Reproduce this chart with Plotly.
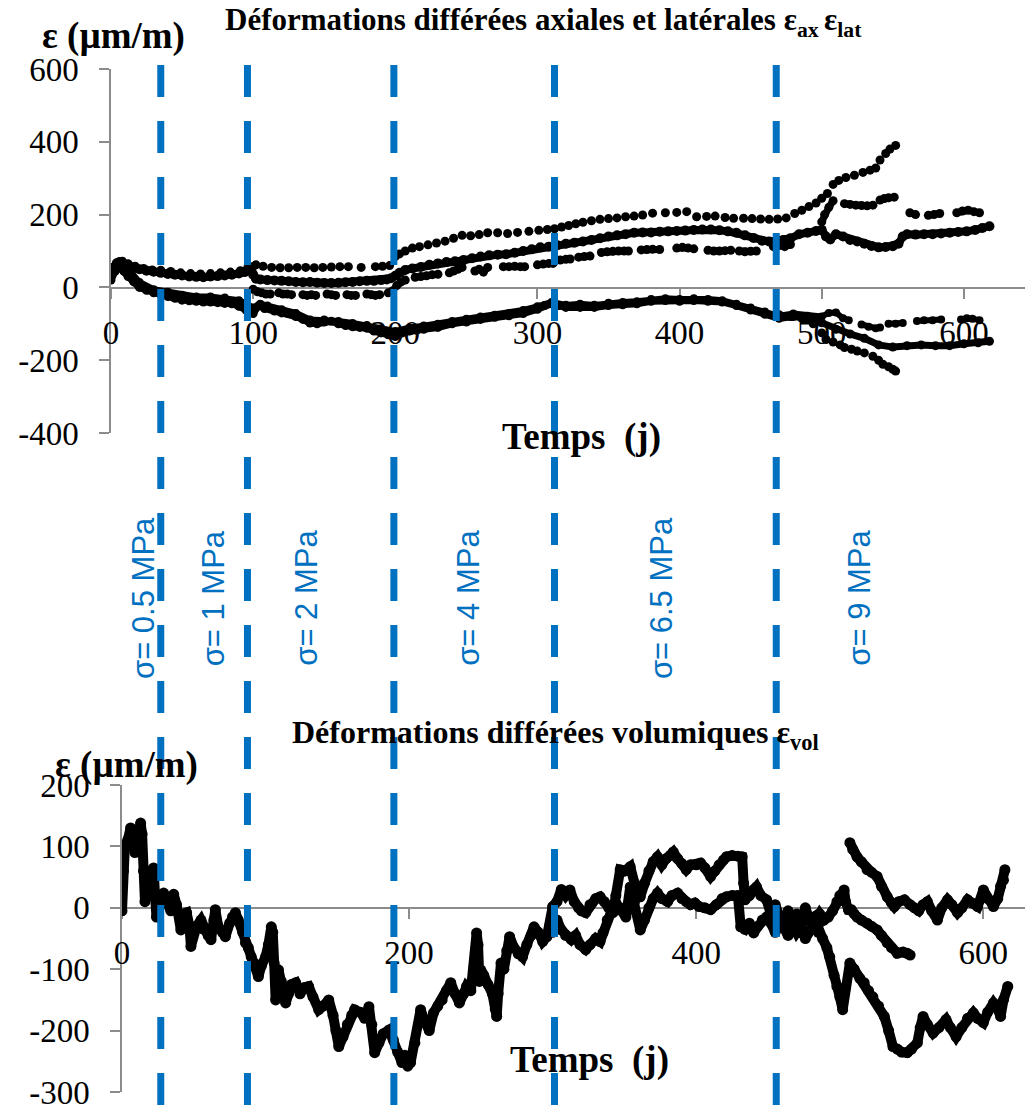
import plotly.graph_objects as go

# ---------------------------------------------------------------------------
# Déformations différées (µm/m) en fonction du temps (jours)
# Each series is a list of (jour, déformation) pairs; None marks a gap in logging.
# ---------------------------------------------------------------------------

# Axial strains (top panel)
ax_pointille = [(0,55),(4,68),(8,72),(12,65),(17,58),(23,52),(29,48),(35,47),(42,44),(49,40),(56,38),
    (63,37),(70,38),(77,40),(84,42),(91,46),(96,52),(102,62),(107,58),(113,55),(119,54),(125,54),
    (131,55),(137,55),(143,54),(149,55),(155,56),(161,57),(167,57),(176,55),(186,57),(191,58),(196,60),
    (200,85),(203,92),(207,100),(212,108),(217,112),(223,117),(229,122),(235,127),(241,135),(247,143),
    (253,142),(259,145),(265,150),(272,150),(279,148),(286,151),(294,154),(301,157),(307,159),(312,161),
    (317,166),(322,170),(327,175),(332,179),(338,183),(344,187),(350,189),(356,191),(362,194),(368,196),
    (374,199),(381,204),(390,205),(398,206),(405,208),(412,194),(419,195),(425,196),(432,192),(438,190),
    (445,190),(451,189),(457,188),(463,187),(469,188),(475,191),(481,203),(486,212),(491,222),(496,232),
    (500,245),(504,258),(508,283),(512,294),(517,302),(523,308),(529,316),(534,322),(538,328),(541,350),
    (545,368),(548,380),(552,390)]

ax_continu = [(0,35),(2,55),(4,65),(6,70),(8,66),(10,62),(13,58),(16,55),(20,50),(25,46),(30,43),(35,40),
    (40,37),(45,35),(50,33),(55,30),(60,29),(65,28),(70,30),(75,31),(80,33),(85,35),(90,38),(94,42),
    (97,48),(99,55),(100,35),(102,24),(105,22),(110,20),(115,19),(120,18),(125,17),(130,15),(135,14),
    (140,15),(145,13),(150,12),(155,12),(160,13),(165,14),(170,15),(175,17),(180,18),(185,18),(190,20),
    (194,22),(197,25),(200,32),(203,40),(207,48),(212,52),(218,56),(224,62),(230,66),(236,70),(242,72),
    (248,75),(254,80),(260,85),(266,88),(272,90),(278,91),(284,95),(290,100),(296,105),(302,110),
    (308,112),(314,116),(320,120),(326,123),(332,126),(338,130),(344,135),(350,140),(356,143),(362,146),
    (368,150),(374,151),(380,151),(386,153),(392,154),(398,155),(404,156),(410,158),(416,159),(422,159),
    (428,157),(434,154),(440,150),(446,143),(452,136),(458,128),(463,126),(468,128),(473,130),(478,135),
    (484,146),(490,150),(496,155),(500,158),(503,140),(506,132),(510,146),(515,140),(520,130),(525,126),
    (530,120),(535,114),(540,110),(545,111),(550,113),(554,120),(557,140),(560,146),(566,145),(572,146),
    (578,146),(584,148),(590,150),(596,152),(602,154),(608,158),(613,163),(618,168)]

ax_tirets = [(100,-5),(103,-12),(106,-15),(109,-18),(112,-18),None,(118,-15),(121,-18),(124,-18),(127,-20),
    None,(135,-20),(138,-22),(141,-20),(144,-22),None,(152,-18),(155,-20),(158,-22),None,(166,-20),
    (169,-22),(172,-22),None,(180,-18),(183,-20),(186,-22),(189,-20),None,(195,-15),(198,-10),(201,5),
    (204,15),(207,20),None,(214,28),(218,30),(222,32),(226,35),(230,36),None,(238,40),(241,45),(244,50),
    (247,55),None,(256,45),(259,50),(262,42),(265,55),None,(276,57),(280,57),(284,58),(288,57),(291,57),
    None,(300,62),(304,64),(308,66),(311,66),None,(316,75),(320,77),(323,78),None,(329,83),(333,85),
    (337,86),None,(345,96),(349,98),(353,99),(357,100),(361,100),(364,100),None,(373,103),(377,104),
    (381,105),(386,104),None,(398,108),(402,110),(406,108),(410,106),None,(420,102),(424,100),(428,100),
    (432,101),(436,102),None,(442,100),(446,98),(450,99),(454,100),None,(466,112),(470,115),(474,112),
    (478,118),None,(500,180),(502,200),(505,220),(508,238),None,(516,230),(520,228),(524,226),(528,225),
    (532,224),(536,226),None,(541,240),(544,244),(547,246),(551,248),None,(562,205),(566,200),None,
    (575,198),(579,200),(583,203),None,(595,205),(599,210),(603,212),(607,208),(611,205)]

# Lateral strains (top panel)
lat_continu = [(0,20),(3,45),(6,55),(9,45),(12,30),(16,15),(20,0),(25,-8),(30,-15),(35,-20),(40,-25),
    (45,-30),(50,-35),(55,-37),(60,-38),(65,-40),(70,-40),(75,-42),(80,-44),(85,-45),(90,-52),(95,-62),
    (100,-72),(104,-50),(108,-58),(115,-65),(120,-70),(125,-72),(130,-80),(135,-88),(140,-98),(145,-100),
    (150,-95),(155,-93),(160,-100),(165,-105),(170,-108),(175,-110),(180,-112),(185,-120),(190,-125),
    (195,-130),(200,-135),(205,-125),(210,-120),(215,-118),(220,-115),(230,-110),(240,-100),(250,-95),
    (260,-88),(270,-82),(280,-78),(290,-72),(300,-60),(305,-50),(310,-45),(315,-50),(320,-55),(330,-55),
    (340,-55),(350,-50),(360,-48),(370,-45),(380,-38),(390,-36),(400,-38),(410,-36),(420,-38),(430,-40),
    (440,-50),(450,-62),(460,-74),(470,-85),(480,-80),(490,-85),(500,-97),(510,-115),(520,-128),
    (530,-140),(540,-158),(550,-164),(560,-160),(570,-158),(580,-160),(590,-160),(600,-155),(610,-152),
    (618,-148)]

lat_tirets = [(0,30),(5,55),(10,60),(15,35),(20,15),(30,-5),(40,-12),(50,-20),(60,-25),(70,-25),(80,-28),
    (90,-35),(95,-45),(100,-55),(105,-45),(110,-50),(120,-60),(130,-70),(140,-88),(150,-88),(160,-92),
    (170,-98),(180,-103),(190,-112),(200,-120),(210,-110),(220,-105),(230,-100),(240,-92),(250,-86),
    (260,-80),(270,-75),(280,-70),(290,-62),(300,-52),(310,-40),(320,-48),(330,-45),(340,-48),(350,-42),
    (360,-40),(370,-38),(380,-32),(390,-30),(400,-32),(410,-30),(420,-32),(430,-35),(440,-45),(450,-55),
    (460,-66),(470,-78),(480,-72),(490,-78),(500,-80),(505,-70),(510,-69),(515,-85),(519,-90),None,
    (528,-102),(533,-108),(538,-112),(541,-110),None,(547,-100),(552,-100),(557,-98),None,(567,-92),
    (572,-90),(578,-90),(584,-88),None,(598,-88),(602,-85),(606,-86),(611,-90)]

lat_pointille = [(470,-75),(478,-80),(486,-85),(494,-100),(500,-125),(503,-143),(508,-150),(513,-158),
    (516,-165),(521,-170),(525,-175),(530,-180),(536,-189),(540,-200),(543,-211),(547,-218),(550,-225),
    (552,-230)]

# Volumetric strains (bottom panel)
vol_1 = [(0,-5),(1,60),(2,100),(4,110),(6,130),(8,120),(9,90),(11,120),(13,138),(14,120),(15,60),(16,10),
    (18,30),(20,60),(22,65),(23,20),(24,-15),(26,10),(29,24),(31,10),(34,-5),(36,22),(38,5),(41,-36),
    (43,-10),(45,-8),(47,-30),(48,-63),(50,-40),(52,-30),(55,-20),(57,-35),(60,-45),(62,-52),(64,-20),
    (65,-3),(67,-30),(70,-40),(72,-47),(75,-25),(77,-15),(79,-8),(81,-20),(84,-40),(86,-57),(88,-65),
    (90,-80),(92,-90),(95,-112),(97,-95),(100,-80),(102,-60),(104,-31),(105,-40),(106,-90),(107,-150),
    (108,-130),(109,-101),(111,-120),(114,-155),(116,-140),(118,-125),(121,-122),(124,-140),(127,-130),
    (130,-128),(133,-145),(137,-166),(140,-160),(144,-150),(147,-175),(149,-200),(151,-226),(154,-210),
    (157,-190),(160,-175),(162,-166),(166,-170),(169,-180),(172,-161),(174,-190),(176,-236),(179,-220),
    (182,-205),(186,-199),(189,-215),(192,-235),(195,-252),(197,-240),(199,-258),(201,-252),(204,-220),
    (208,-166),(211,-185),(214,-200),(217,-171),(220,-160),(223,-150),(226,-135),(229,-122),(232,-140),
    (235,-155),(238,-140),(240,-128),(243,-135),(245,-100),(247,-41),(248,-60),(249,-120),(252,-110),
    (255,-125),(258,-140),(260,-165),(261,-177),(262,-140),(264,-90),(266,-100),(268,-70),(270,-47),
    (273,-65),(276,-75),(279,-80),(282,-60),(285,-45),(287,-31),(290,-40),(293,-55),(296,-47),(298,-30),
    (300,2),(303,10),(306,30),(309,20),(312,29),(315,10),(318,0),(320,-5),(323,-8),(326,5),(330,15),
    (333,18),(336,10),(339,0),(342,-8),(344,20),(347,62),(350,60),(354,67),(357,40),(359,25),(361,18),
    (364,40),(367,60),(370,75),(373,83),(376,70),(379,80),(382,85),(384,91),(387,80),(390,72),(393,62),
    (396,70),(400,70),(403,73),(406,65),(410,51),(413,60),(416,70),(419,78),(421,83),(425,85),(429,84),
    (432,83),(433,40),(434,13),(437,20),(440,30),(442,34),(445,20),(449,13),(452,-10),(455,5),(458,-15),
    (461,-20),(464,-5),(467,-30),(470,-10),(473,-25),(476,0),(479,-20),(482,-15),(485,-40),(488,-50),
    (491,-65),(493,-80),(496,-110),(498,-128),(500,-145),(502,-166),(504,-130),(507,-90),(510,-100),
    (514,-115),(517,-122),(520,-135),(523,-145),(527,-160),(531,-177),(534,-200),(537,-226),(540,-230),
    (543,-235),(547,-236),(550,-230),(554,-220),(556,-195),(558,-177),(561,-190),(565,-204),(569,-195),
    (574,-182),(577,-195),(581,-210),(585,-195),(589,-180),(593,-171),(596,-180),(600,-187),(603,-170),
    (607,-155),(610,-165),(612,-177),(614,-150),(617,-128)]

vol_2 = [(300,-40),(303,-20),(306,-36),(309,-45),(313,-52),(316,-45),(319,-60),(323,-68),(326,-60),
    (330,-50),(333,-55),(335,-41),(338,-20),(341,-5),(344,8),(347,0),(351,-15),(354,34),(357,10),
    (361,-36),(364,-20),(367,0),(370,15),(373,24),(376,15),(380,10),(383,20),(387,24),(390,15),(393,10),
    (396,5),(399,8),(402,2),(406,0),(410,-3),(414,5),(418,15),(421,18),(425,20),(429,20),(431,-31),
    (434,-35),(437,-25),(440,-41),(443,-30),(446,-20),(449,-15),(452,-25),(455,-40),(458,-20),(461,-30),
    (464,-45),(467,-25),(470,-40),(473,-30),(476,-50),(480,-35),(483,-25),(486,-10),(489,-20),(492,-15),
    (495,-5),(498,10),(500,20),(503,29),(504,10),(506,-3),(508,-3),(510,-10),(512,-15),(515,-20),
    (519,-25),(522,-30),(526,-36),(529,-45),(533,-57),(536,-65),(540,-74),(544,-72),(547,-74),(549,-77)]

vol_3 = [(507,106),(509,95),(512,83),(515,75),(519,62),(522,58),(526,51),(529,35),(533,18),(536,8),
    (538,2),(541,10),(545,13),(549,5),(552,0),(555,-5),(558,5),(561,10),(564,-5),(568,-20),(571,0),
    (575,13),(578,5),(582,-8),(585,0),(589,13),(592,8),(596,2),(600,29),(603,15),(607,2),(610,15),
    (612,35),(614,45),(615,62)]

# Loading steps: start day of each stress level (days on the top time axis)
jours_chargement = [35, 96, 199, 312, 468]
paliers = ["σ= 0.5 MPa", "σ= 1 MPa", "σ= 2 MPa", "σ= 4 MPa", "σ= 6.5 MPa", "σ= 9 MPa"]
jours_paliers = [22.5, 72, 137, 251, 387, 526]

# Tick values and their labels (plain hyphen for negatives)
ticks_x_haut = [0, 100, 200, 300, 400, 500, 600]
ticks_y_haut = [-400, -200, 0, 200, 400, 600]
ticks_x_bas = [0, 200, 400, 600]
ticks_y_bas = [-300, -200, -100, 0, 100, 200]

W, H = 1025, 1107
SERIF = "Liberation Serif"
SANS = "Liberation Sans"
BLEU = "#0070C0"
GRIS = "#8c8c8c"


def px(x):
    return x / W


def py(y):
    return 1 - y / H


def split(pairs):
    t = [p[0] if p is not None else None for p in pairs]
    v = [p[1] if p is not None else None for p in pairs]
    return t, v


def labels(vals):
    return [str(v) for v in vals]


fig = go.Figure()


def add(pairs, axes, mode, size=9, width=7):
    t, v = split(pairs)
    fig.add_trace(go.Scatter(
        x=t, y=v, xaxis=axes[0], yaxis=axes[1], mode=mode, connectgaps=False,
        marker=dict(color="black", size=size),
        line=dict(color="black", width=width),
        hoverinfo="skip", showlegend=False))


top = ("x", "y")
bot = ("x2", "y2")
add(lat_tirets, top, "lines+markers", 8, 6)
add(lat_continu, top, "lines+markers", 9, 7)
add(lat_pointille, top, "markers", 9)
add(ax_tirets, top, "lines+markers", 9, 7)
add(ax_continu, top, "lines+markers", 10, 8)
add(ax_pointille, top, "markers", 9)
add(vol_2, bot, "lines+markers", 11, 10)
add(vol_3, bot, "lines+markers", 11, 10)
add(vol_1, bot, "lines+markers", 11, 10)

tick_font = dict(family=SERIF, size=33, color="black")
axis_common = dict(showline=True, linecolor=GRIS, linewidth=1.5, ticks="outside", ticklen=10,
                   tickwidth=1.5, tickcolor=GRIS, showgrid=False, zeroline=False, automargin=False,
                   tickmode="array", ticklabeloverflow="allow", layer="below traces",
                   tickfont=tick_font)

fig.update_layout(
    width=W, height=H, margin=dict(l=0, r=0, t=0, b=0, pad=0, autoexpand=False),
    font=dict(family=SERIF, color="black"),
    paper_bgcolor="white", plot_bgcolor="rgba(0,0,0,0)", showlegend=False,
    xaxis=dict(domain=[px(111), 1], range=[0, 643], anchor="free", position=py(288),
               tickvals=ticks_x_haut, ticktext=labels(ticks_x_haut), ticklabelstandoff=6, **axis_common),
    yaxis=dict(domain=[py(433), py(69)], range=[-400, 600], anchor="x",
               tickvals=ticks_y_haut, ticktext=labels(ticks_y_haut), ticklabelstandoff=14, **axis_common),
    xaxis2=dict(domain=[px(122), 1], range=[0, 629], anchor="free", position=py(908),
                tickvals=ticks_x_bas, ticktext=labels(ticks_x_bas), ticklabelstandoff=6, **axis_common),
    yaxis2=dict(domain=[py(1092), py(785)], range=[-300, 200], anchor="x2",
                tickvals=ticks_y_bas, ticktext=labels(ticks_y_bas), ticklabelstandoff=14, **axis_common),
)

# Dashed markers of each loading step, running through both panels
for j in jours_chargement:
    fig.add_shape(type="line", xref="x", yref="paper", x0=j, x1=j, y0=py(65), y1=py(1115),
                  line=dict(color=BLEU, width=7, dash="32px,24px"), layer="above")

# Stress level labels
for lab, j in zip(paliers, jours_paliers):
    fig.add_annotation(text=lab, xref="x", yref="paper", x=j, y=py(598), textangle=-90,
                       showarrow=False, xanchor="center", yanchor="middle",
                       font=dict(family=SANS, size=31, color=BLEU))

texts = [
    ("<b>Déformations différées axiales et latérales ε<sub>ax </sub>ε<sub>lat</sub></b>", 543, 22, 31),
    ("<b>ε (µm/m)</b>", 113, 36, 37),
    ("<b>Temps  (j)</b>", 581, 437, 37),
    ("<b>Déformations différées volumiques ε<sub>vol</sub></b>", 555, 735, 32),
    ("<b>ε (µm/m)</b>", 126, 765, 37),
    ("<b>Temps  (j)</b>", 589, 1060, 37),
]
for txt, x, y, s in texts:
    fig.add_annotation(text=txt, xref="paper", yref="paper", x=px(x), y=py(y), showarrow=False,
                       xanchor="center", yanchor="middle",
                       font=dict(family=SERIF, size=s, color="black"))

fig.write_html("out.html")
